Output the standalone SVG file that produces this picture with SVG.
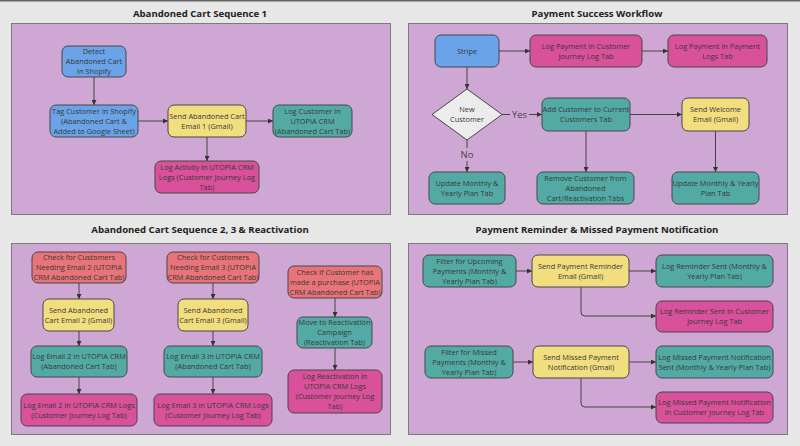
<svg xmlns="http://www.w3.org/2000/svg" width="800" height="446" viewBox="0 0 800 446">
<style>
.bg{fill:#e7e7e7}
.panel{fill:#cfa7d4;stroke:#7b7b7b;stroke-width:1}
.title{font-family:"Open Sans","Liberation Sans",sans-serif;font-weight:bold;font-size:9.6px;fill:#222;text-anchor:middle}
.n rect,.n polygon{stroke:#474747;stroke-width:1}
.n text{font-family:"Open Sans","Liberation Sans",sans-serif;font-size:7.4px;fill:#383838;text-anchor:middle}
.blue rect{fill:#6aa3e7}
.yellow rect{fill:#f2de7f}
.teal rect{fill:#53aaa5}
.pink rect{fill:#d8519a}
.red rect{fill:#e8747a}
.dia polygon{fill:#ececec}
.conn path{fill:none;stroke:#444;stroke-width:1;marker-end:url(#ah)}
.lbl{font-family:"Open Sans","Liberation Sans",sans-serif;font-size:9.5px;fill:#444;text-anchor:middle}
.lblbg{fill:#cfa7d4}
</style>
<defs>
<marker id="ah" viewBox="0 0 6 6" refX="6" refY="3" markerWidth="5" markerHeight="5" orient="auto" markerUnits="userSpaceOnUse">
<path d="M0,0 L6,3 L0,6 Z" fill="#333"/>
</marker>
</defs>
<rect class="bg" x="0" y="0" width="800" height="446"/>
<rect x="0" y="0" width="800" height="1.5" fill="#666"/>

<g id="panel-seq1">
<rect class="panel" x="11.5" y="23.5" width="379" height="191"/>
<text class="title" x="200" y="17">Abandoned Cart Sequence 1</text>
</g>
<g id="panel-payment">
<rect class="panel" x="408.5" y="23.5" width="379" height="191"/>
<text class="title" x="597" y="17">Payment Success Workflow</text>
</g>
<g id="panel-seq23">
<rect class="panel" x="11.5" y="243.5" width="379" height="191"/>
<text class="title" x="200" y="233">Abandoned Cart Sequence 2, 3 &amp; Reactivation</text>
</g>
<g id="panel-reminder">
<rect class="panel" x="408.5" y="243.5" width="379" height="191"/>
<text class="title" x="597" y="233">Payment Reminder &amp; Missed Payment Notification</text>
</g>

<g id="connectors" class="conn">
<path d="M94,77 V105"/>
<path d="M138,121 H168"/>
<path d="M246,121 H273"/>
<path d="M207,137 V161"/>
<path d="M499,51 H530"/>
<path d="M642,51 H668"/>
<path d="M467,67 V89"/>
<path d="M502,114.5 H542"/>
<path d="M467,140 V172"/>
<path d="M630,114.5 H682"/>
<path d="M586,131 V172"/>
<path d="M715.5,131 V172"/>
<path d="M79,283 V299"/>
<path d="M79,331 V346"/>
<path d="M79,377 V394"/>
<path d="M213,283 V299"/>
<path d="M213,331 V346"/>
<path d="M213,377 V394"/>
<path d="M335,298 V317"/>
<path d="M335,348 V370"/>
<path d="M516,271 H532"/>
<path d="M629,271 H656"/>
<path d="M581,287 V312 Q581,316 585,316 H656"/>
<path d="M513,362 H533"/>
<path d="M629,362 H656"/>
<path d="M581,378 V403 Q581,407 585,407 H656"/>
<rect class="lblbg" x="510" y="108" width="19" height="13"/>
<text class="lbl" x="519.5" y="118">Yes</text>
<rect class="lblbg" x="459" y="148" width="16" height="13"/>
<text class="lbl" x="467" y="158">No</text>
</g>

<g id="detect" class="n blue"><rect x="62" y="46" width="64" height="31" rx="6"/>
<text x="94" y="54.1">Detect<tspan x="94" dy="10">Abandoned Cart</tspan><tspan x="94" dy="10">in Shopify</tspan></text></g>
<g id="tag" class="n blue"><rect x="50" y="105" width="88" height="32" rx="6"/>
<text x="94" y="113.6">Tag Customer in Shopify<tspan x="94" dy="10">(Abandoned Cart &amp;</tspan><tspan x="94" dy="10">Added to Google Sheet)</tspan></text></g>
<g id="send1" class="n yellow"><rect x="168" y="105" width="78" height="32" rx="6"/>
<text x="207" y="118.6">Send Abandoned Cart<tspan x="207" dy="10">Email 1 (Gmail)</tspan></text></g>
<g id="logcust" class="n teal"><rect x="273" y="105" width="79" height="32" rx="6"/>
<text x="312.5" y="113.6">Log Customer in<tspan x="312.5" dy="10">UTOPIA CRM</tspan><tspan x="312.5" dy="10">(Abandoned Cart Tab)</tspan></text></g>
<g id="logact" class="n pink"><rect x="155" y="161" width="104" height="32" rx="6"/>
<text x="207" y="169.6">Log Activity in UTOPIA CRM<tspan x="207" dy="10">Logs (Customer Journey Log</tspan><tspan x="207" dy="10">Tab)</tspan></text></g>

<g id="stripe" class="n blue"><rect x="435" y="35" width="64" height="32" rx="6"/>
<text x="467" y="53.6">Stripe</text></g>
<g id="logpaycj" class="n pink"><rect x="530" y="35" width="112" height="32" rx="6"/>
<text x="586" y="48.6">Log Payment in Customer<tspan x="586" dy="10">Journey Log Tab</tspan></text></g>
<g id="logpaylogs" class="n pink"><rect x="668" y="35" width="99" height="32" rx="6"/>
<text x="717.5" y="48.6">Log Payment in Payment<tspan x="717.5" dy="10">Logs Tab</tspan></text></g>
<g id="newcust" class="n dia"><polygon points="467,89 502,114.5 467,140 432,114.5"/>
<text x="467" y="111.8">New<tspan x="467" dy="10">Customer</tspan></text></g>
<g id="addcust" class="n teal"><rect x="542" y="98" width="88" height="33" rx="6"/>
<text x="586" y="112">Add Customer to Current<tspan x="586" dy="10">Customers Tab</tspan></text></g>
<g id="welcome" class="n yellow"><rect x="682" y="98" width="67" height="33" rx="6"/>
<text x="715.5" y="112">Send Welcome<tspan x="715.5" dy="10">Email (Gmail)</tspan></text></g>
<g id="upd1" class="n teal"><rect x="429" y="172" width="76" height="32" rx="6"/>
<text x="467" y="185.6">Update Monthly &amp;<tspan x="467" dy="10">Yearly Plan Tab</tspan></text></g>
<g id="remove" class="n teal"><rect x="537" y="172" width="97" height="32" rx="6"/>
<text x="585.5" y="180.6">Remove Customer from<tspan x="585.5" dy="10">Abandoned</tspan><tspan x="585.5" dy="10">Cart/Reactivation Tabs</tspan></text></g>
<g id="upd2" class="n teal"><rect x="672" y="172" width="87" height="32" rx="6"/>
<text x="715.5" y="185.6">Update Monthly &amp; Yearly<tspan x="715.5" dy="10">Plan Tab</tspan></text></g>

<g id="chk2" class="n red"><rect x="32" y="252" width="94" height="31" rx="6"/>
<text x="79" y="260.1">Check for Customers<tspan x="79" dy="10">Needing Email 2 (UTOPIA</tspan><tspan x="79" dy="10">CRM Abandoned Cart Tab)</tspan></text></g>
<g id="send2" class="n yellow"><rect x="43" y="299" width="71" height="32" rx="6"/>
<text x="78.5" y="312.6">Send Abandoned<tspan x="78.5" dy="10">Cart Email 2 (Gmail)</tspan></text></g>
<g id="log2" class="n teal"><rect x="31" y="346" width="96" height="31" rx="6"/>
<text x="79" y="359.1">Log Email 2 in UTOPIA CRM<tspan x="79" dy="10">(Abandoned Cart Tab)</tspan></text></g>
<g id="log2l" class="n pink"><rect x="21" y="394" width="116" height="32" rx="6"/>
<text x="79" y="407.6">Log Email 2 in UTOPIA CRM Logs<tspan x="79" dy="10">(Customer Journey Log Tab)</tspan></text></g>
<g id="chk3" class="n red"><rect x="167" y="252" width="92" height="31" rx="6"/>
<text x="213" y="260.1">Check for Customers<tspan x="213" dy="10">Needing Email 3 (UTOPIA</tspan><tspan x="213" dy="10">CRM Abandoned Cart Tab)</tspan></text></g>
<g id="send3" class="n yellow"><rect x="178" y="299" width="70" height="32" rx="6"/>
<text x="213" y="312.6">Send Abandoned<tspan x="213" dy="10">Cart Email 3 (Gmail)</tspan></text></g>
<g id="log3" class="n teal"><rect x="164" y="346" width="98" height="31" rx="6"/>
<text x="213" y="359.1">Log Email 3 in UTOPIA CRM<tspan x="213" dy="10">(Abandoned Cart Tab)</tspan></text></g>
<g id="log3l" class="n pink"><rect x="154" y="394" width="118" height="32" rx="6"/>
<text x="213" y="407.6">Log Email 3 in UTOPIA CRM Logs<tspan x="213" dy="10">(Customer Journey Log Tab)</tspan></text></g>
<g id="chkp" class="n red"><rect x="288" y="266" width="94" height="32" rx="6"/>
<text x="335" y="274.6">Check if Customer has<tspan x="335" dy="10">made a purchase (UTOPIA</tspan><tspan x="335" dy="10">CRM Abandoned Cart Tab)</tspan></text></g>
<g id="move" class="n teal"><rect x="297" y="317" width="75" height="31" rx="6"/>
<text x="334.5" y="325.1">Move to Reactivation<tspan x="334.5" dy="10">Campaign</tspan><tspan x="334.5" dy="10">(Reactivation Tab)</tspan></text></g>
<g id="logreact" class="n pink"><rect x="288" y="370" width="94" height="43" rx="6"/>
<text x="335" y="379.1">Log Reactivation in<tspan x="335" dy="10">UTOPIA CRM Logs</tspan><tspan x="335" dy="10">(Customer Journey Log</tspan><tspan x="335" dy="10">Tab)</tspan></text></g>

<g id="filt1" class="n teal"><rect x="423" y="255" width="93" height="32" rx="6"/>
<text x="469.5" y="263.6">Filter for Upcoming<tspan x="469.5" dy="10">Payments (Monthly &amp;</tspan><tspan x="469.5" dy="10">Yearly Plan Tab)</tspan></text></g>
<g id="rem" class="n yellow"><rect x="532" y="255" width="97" height="32" rx="6"/>
<text x="580.5" y="268.6">Send Payment Reminder<tspan x="580.5" dy="10">Email (Gmail)</tspan></text></g>
<g id="logrem" class="n teal"><rect x="656" y="255" width="117" height="32" rx="6"/>
<text x="714.5" y="268.6">Log Reminder Sent (Monthly &amp;<tspan x="714.5" dy="10">Yearly Plan Tab)</tspan></text></g>
<g id="logremcj" class="n pink"><rect x="656" y="301" width="117" height="31" rx="6"/>
<text x="714.5" y="314.1">Log Reminder Sent in Customer<tspan x="714.5" dy="10">Journey Log Tab</tspan></text></g>
<g id="filt2" class="n teal"><rect x="425" y="346" width="88" height="32" rx="6"/>
<text x="469" y="354.6">Filter for Missed<tspan x="469" dy="10">Payments (Monthly &amp;</tspan><tspan x="469" dy="10">Yearly Plan Tab)</tspan></text></g>
<g id="miss" class="n yellow"><rect x="533" y="346" width="96" height="32" rx="6"/>
<text x="581" y="359.6">Send Missed Payment<tspan x="581" dy="10">Notification (Gmail)</tspan></text></g>
<g id="logmiss" class="n teal"><rect x="656" y="346" width="117" height="32" rx="6"/>
<text x="714.5" y="359.6">Log Missed Payment Notification<tspan x="714.5" dy="10">Sent (Monthly &amp; Yearly Plan Tab)</tspan></text></g>
<g id="logmisscj" class="n pink"><rect x="656" y="392" width="117" height="31" rx="6"/>
<text x="714.5" y="405.1">Log Missed Payment Notification<tspan x="714.5" dy="10">in Customer Journey Log Tab</tspan></text></g>
</svg>
